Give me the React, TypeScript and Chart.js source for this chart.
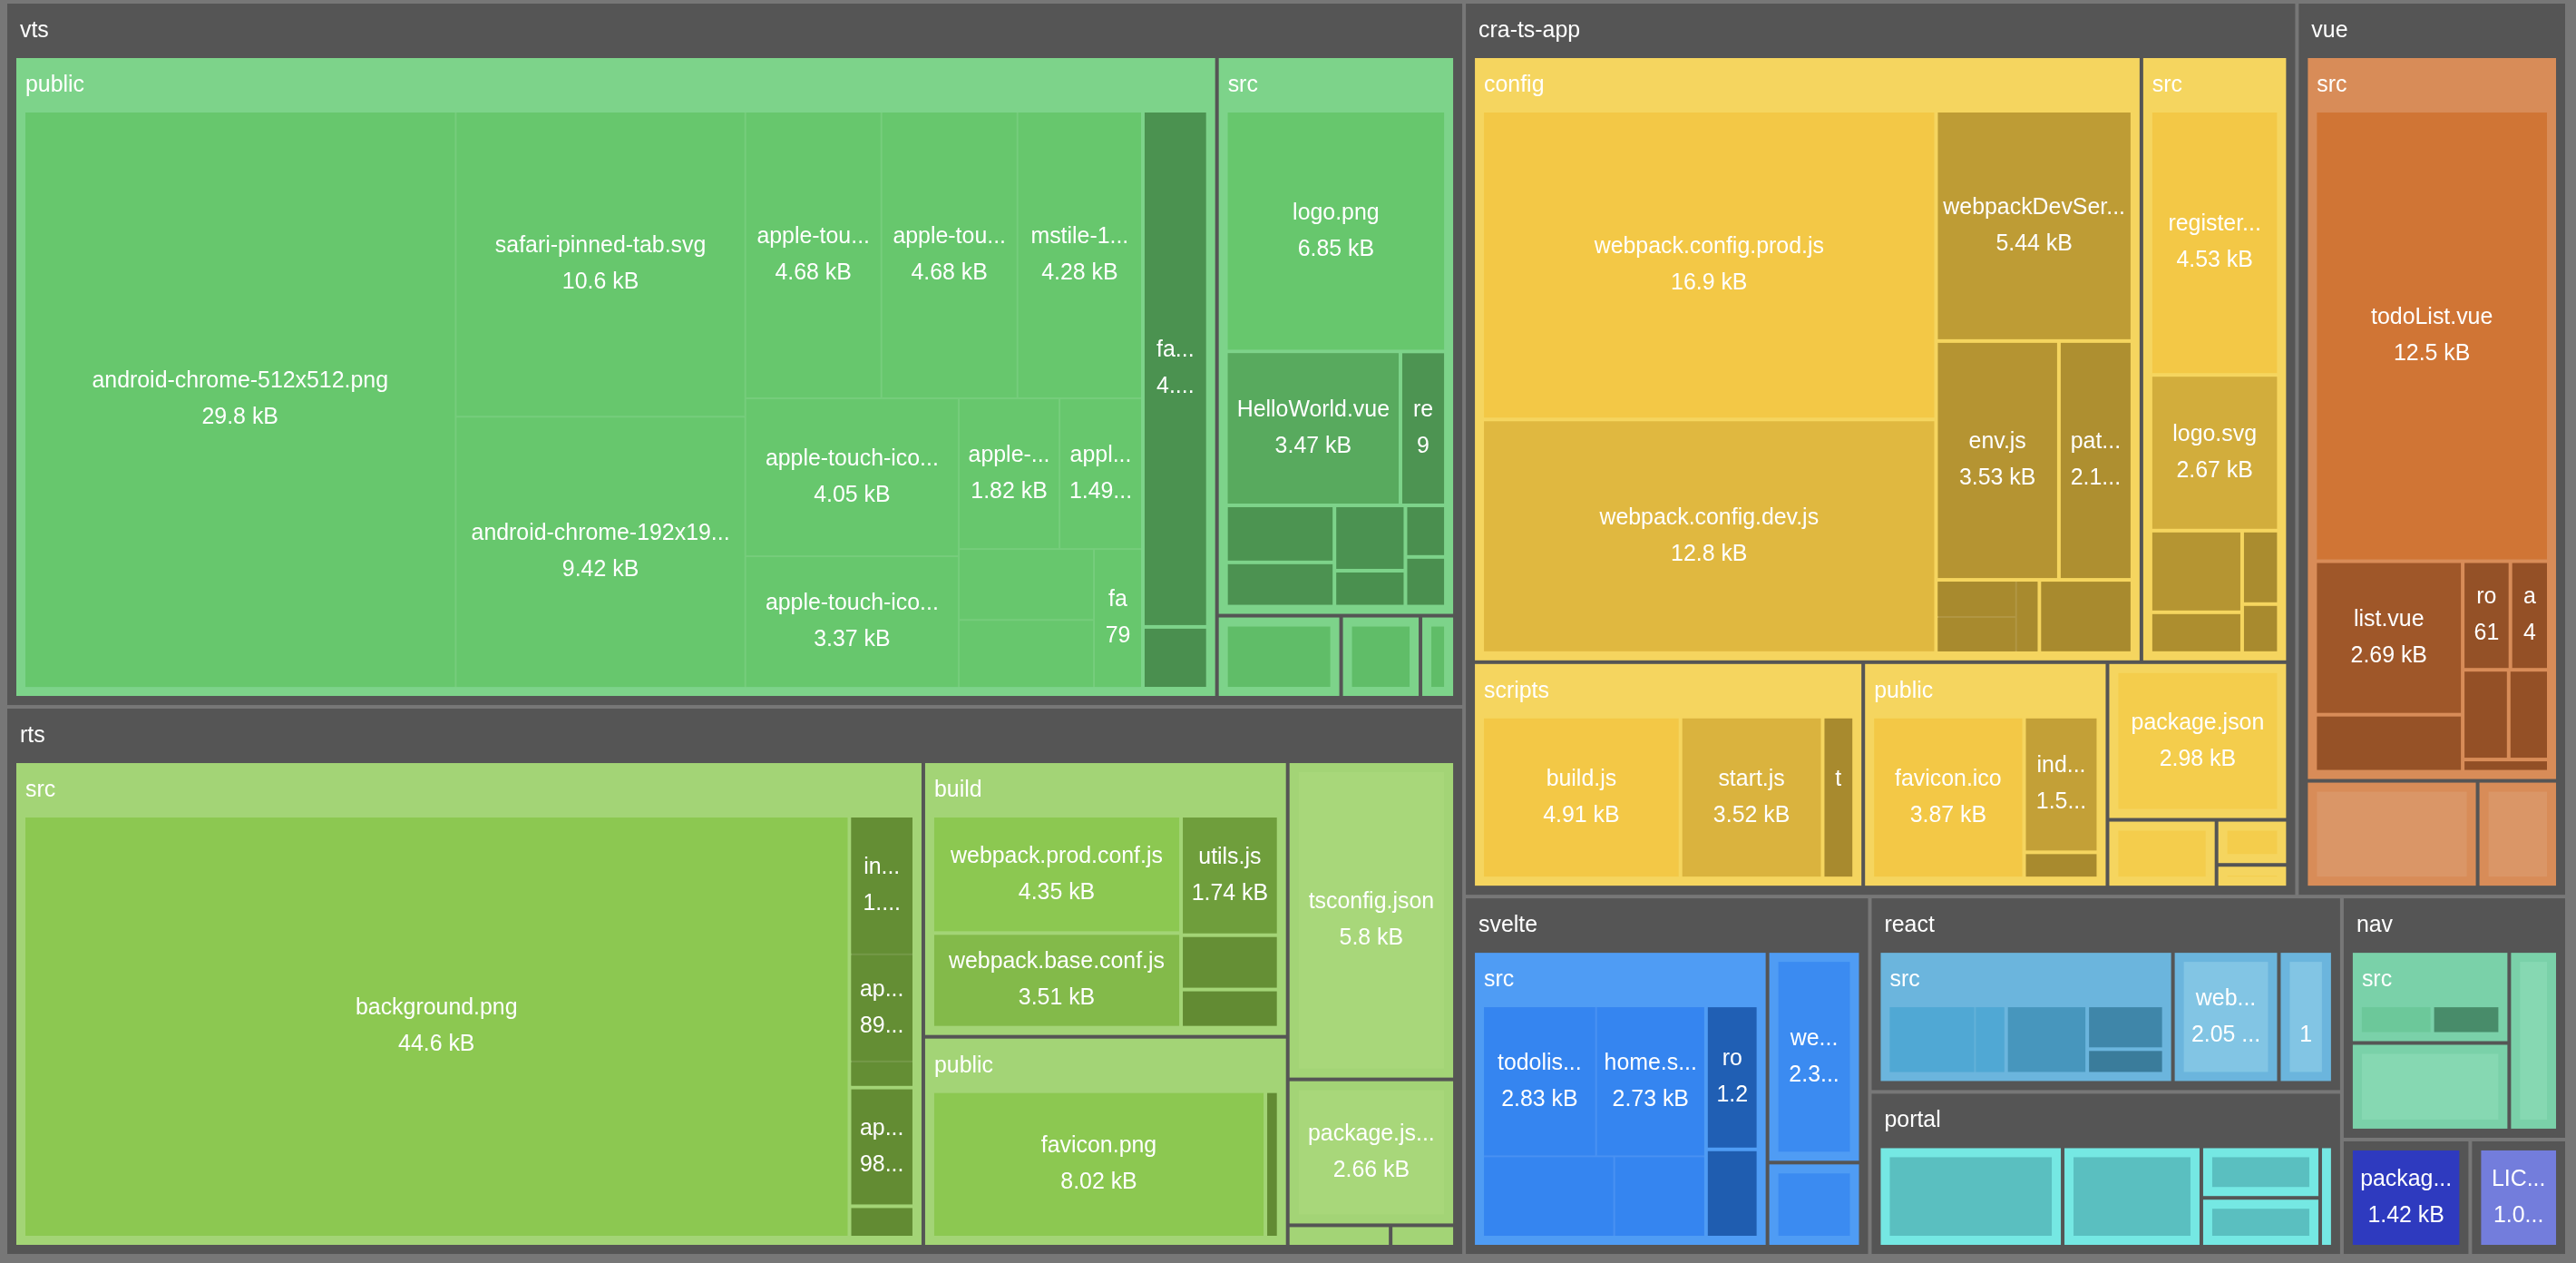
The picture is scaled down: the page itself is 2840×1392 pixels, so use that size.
import React, { useEffect, useRef } from "react";
import { Chart, registerables } from "chart.js";

Chart.register(...registerables);

// [name, size in bytes | children, optional directory size on disk]
type Entry = [string, number | Entry[], number?];

// ---------------- data (file sizes in bytes) ----------------
const vtsIcons: Entry[] = [
  ["android-chrome-512x512.png", 29812],
  ["safari-pinned-tab.svg", 10600],
  ["android-chrome-192x192.png", 9418],
  ["apple-touch-icon-180x180.png", 4680],
  ["apple-touch-icon.png", 4680],
  ["mstile-150x150.png", 4282],
  ["apple-touch-icon-152x152.png", 4046],
  ["apple-touch-icon-120x120.png", 3369],
  ["apple-touch-icon-76x76.png", 1822],
  ["apple-touch-icon-60x60.png", 1491],
  ["favicon-32x32.png", 1150],
  ["msapplication-icon-144x144.png", 1100],
  ["favicon-16x16.png", 799],
];
const vtsImg: Entry[] = [["icons", vtsIcons]];
const vtsPublic: Entry[] = [["img", vtsImg], ["favicon.ico", 4010], ["index.html", 480]];
const vtsAssets: Entry[] = [["logo.png", 6849]];
const vtsComponents: Entry[] = [["HelloWorld.vue", 3474]];
const vtsSrc: Entry[] = [
  ["assets", vtsAssets],
  ["components", vtsComponents],
  ["registerServiceWorker.ts", 905],
  ["App.vue", 800],
  ["router.ts", 620],
  ["main.ts", 600],
  ["store.ts", 330],
  ["shims-tsx.d.ts", 270],
  ["shims-vue.d.ts", 260],
];
const vtsRoot: Entry[] = [
  ["public", vtsPublic],
  ["src", vtsSrc],
  ["package.json", 1080],
  ["tsconfig.json", 690],
  ["README.md", 300],
];

const rtsComponents: Entry[] = [["index.tsx", 1150], ["app.tsx", 895], ["app.css", 210]];
const rtsSrc: Entry[] = [["background.png", 44600], ["components", rtsComponents], ["api.ts", 985], ["env.d.ts", 260]];
const rtsBuild: Entry[] = [
  ["webpack.prod.conf.js", 4350],
  ["webpack.base.conf.js", 3510],
  ["utils.js", 1740],
  ["webpack.dev.conf.js", 791],
  ["check-versions.js", 556],
];
const rtsPublic: Entry[] = [["favicon.png", 8020], ["index.html", 320]];
const rtsRoot: Entry[] = [
  ["src", rtsSrc],
  ["build", rtsBuild],
  ["public", rtsPublic],
  ["tsconfig.json", 5800],
  ["package.json", 2660],
  [".babelrc", 240],
  [".gitignore", 150],
];

const craJest: Entry[] = [["cssTransform.js", 360], ["fileTransform.js", 350], ["babelTransform.js", 200]];
const craConfig: Entry[] = [
  ["webpack.config.prod.js", 16860],
  ["webpack.config.dev.js", 12760],
  ["webpackDevServer.config.js", 5440],
  ["env.js", 3530],
  ["paths.js", 2110],
  ["jest", craJest],
  ["polyfills.js", 820],
];
const craSrc: Entry[] = [
  ["registerServiceWorker.ts", 4530],
  ["logo.svg", 2670],
  ["App.tsx", 1000],
  ["index.tsx", 500],
  ["App.css", 360],
  ["App.test.tsx", 240],
];
const craScripts: Entry[] = [["build.js", 4910], ["start.js", 3520], ["test.js", 780]];
const craPublic: Entry[] = [["favicon.ico", 3870], ["index.html", 1590], ["manifest.json", 306]];
const craRoot: Entry[] = [
  ["config", craConfig],
  ["src", craSrc],
  ["scripts", craScripts],
  ["public", craPublic],
  ["package.json", 2980],
  ["tsconfig.json", 773],
  ["tslint.json", 337],
  [".gitignore", 169],
];

const vueSrc: Entry[] = [
  ["todoList.vue", 12500],
  ["list.vue", 2690],
  ["index.vue", 1000],
  ["router.js", 615],
  ["app.js", 495],
  ["main.js", 490],
  ["store.js", 427],
  ["util.js", 125],
];
const vueRoot: Entry[] = [["src", vueSrc], ["package.json", 1840], ["README.md", 860]];

const svelteComponents: Entry[] = [
  ["todolist.svelte", 2830],
  ["home.svelte", 2730],
  ["list.svelte", 1760],
  ["item.svelte", 1220],
];
const svelteSrc: Entry[] = [["components", svelteComponents], ["router.js", 1240], ["main.js", 760]];
const svelteRoot: Entry[] = [["src", svelteSrc], ["webpack.config.js", 2390], ["package.json", 950]];

const reactComponents: Entry[] = [["App.js", 1803], ["App.css", 632]];
const reactSrc: Entry[] = [["components", reactComponents], ["index.js", 1673], ["App.test.js", 1011], ["index.css", 569]];
const reactRoot: Entry[] = [["src", reactSrc], ["webpack.config.js", 2050], ["README.md", 1043]];

const portalRoot: Entry[] = [
  ["index.js", 2981],
  ["portal.js", 2250],
  ["style.css", 990],
  ["README.md", 938],
  [".gitignore", 205],
];

const navSrc: Entry[] = [["nav.js", 1053], ["nav.css", 988]];
const navRoot: Entry[] = [["src", navSrc], ["index.html", 1942], ["package.json", 1224]];

const projects: Entry[] = [
  ["vts", vtsRoot],
  ["rts", rtsRoot],
  ["cra-ts-app", craRoot],
  ["vue", vueRoot, 23000],
  ["svelte", svelteRoot],
  ["react", reactRoot],
  ["portal", portalRoot],
  ["nav", navRoot],
  ["package.json", 1420],
  ["LICENSE", 1070],
];

// ---------------- styles ----------------
const PALETTE: Record<string, { header: string; base: string; dark: string; leaf2: string }> = {
  vts: { header: "#7dd38a", base: "#67c76d", dark: "#4a8f4f", leaf2: "#60bd68" },
  rts: { header: "#a3d476", base: "#8cc851", dark: "#628b33", leaf2: "#a8d77a" },
  "cra-ts-app": { header: "#f5d55f", base: "#f3c846", dark: "#a88a2e", leaf2: "#f4cd4c" },
  vue: { header: "#d88c58", base: "#d07535", dark: "#924f26", leaf2: "#da9667" },
  svelte: { header: "#4f9cf4", base: "#3585f0", dark: "#1f5db0", leaf2: "#3b8bf1" },
  react: { header: "#6bb5dd", base: "#50a8d4", dark: "#3a7c9b", leaf2: "#82c5e4" },
  portal: { header: "#75e8e3", base: "#5abfc0", dark: "#4aa3a4", leaf2: "#5abfc0" },
  nav: { header: "#7ad1a9", base: "#6cc89a", dark: "#488c6a", leaf2: "#86d8b2" },
  "package.json": { header: "#555555", base: "#2e3abf", dark: "#2e3abf", leaf2: "#2e3abf" },
  LICENSE: { header: "#555555", base: "#737ddc", dark: "#737ddc", leaf2: "#737ddc" },
};
const CANVAS_W = 2840;
const CANVAS_H = 1392;
const AREA = { x: 8, y: 4, w: 2820, h: 1378 };
const ROOT_BG = "#777777";
const PROJECT_BG = "#555555";
const FONT = '24.9px "Liberation Sans", Arial, Helvetica, sans-serif';
const MEASURE_FONT = '24px "Liberation Sans", Arial, Helvetica, sans-serif';
const RATIO = 0.5 * (1 + Math.sqrt(5));
const LABEL_MIN_H = 97;
const ELLIPSIS_SCALE = 0.85;

interface TNode {
  name: string;
  value: number;
  children: TNode[] | null;
  depth: number;
  x: number;
  y: number;
  w: number;
  h: number;
  area: number;
  color: string;
  border: string;
  fill: string;
}

function build(entry: Entry, depth: number): TNode {
  const [name, v, total] = entry;
  const base = { name, depth, x: 0, y: 0, w: 0, h: 0, area: 0, color: "", border: "", fill: "" };
  if (Array.isArray(v)) {
    const children = v.map((e) => build(e, depth + 1));
    const sum = children.reduce((s, c) => s + c.value, 0);
    return { ...base, value: total != null ? total : sum, children };
  }
  return { ...base, value: v, children: null };
}

function levelStyle(n: TNode) {
  if (n.depth === 0) return { bw: 0, gap: 4, upper: 0 };
  if (n.depth <= 2) return { bw: 10, gap: 4, upper: n.children ? 60 : 0 };
  return { bw: 0, gap: 2, upper: 0 };
}

function worst(row: TNode[], rowArea: number, fixed: number) {
  let max = 0;
  let min = Infinity;
  for (const r of row) {
    const a = r.area;
    if (a) {
      if (a < min) min = a;
      if (a > max) max = a;
    }
  }
  const sq = rowArea * rowArea;
  const f = fixed * fixed * RATIO;
  return sq ? Math.max((f * max) / sq, sq / (f * min)) : Infinity;
}

function position(
  row: TNode[],
  rowArea: number,
  fixed: number,
  rect: { x: number; y: number; width: number; height: number },
  half: number,
  flush: boolean
) {
  const horiz = fixed === rect.width;
  let last = horiz ? rect.x : rect.y;
  let other = fixed ? rowArea / fixed : 0;
  const rectOther = horiz ? rect.height : rect.width;
  if (flush || other > rectOther) other = rectOther;
  const end = horiz ? rect.x + rect.width : rect.y + rect.height;
  for (let i = 0; i < row.length; i++) {
    const n = row[i];
    const step = other ? n.area / other : 0;
    const wh1 = Math.max(other - 2 * half, 0);
    const remain = end - last;
    const mod = i === row.length - 1 || remain < step ? remain : step;
    const wh0 = Math.max(mod - 2 * half, 0);
    if (horiz) {
      n.w = wh0;
      n.h = wh1;
      n.x = last + Math.min(half, wh0 / 2);
      n.y = rect.y + Math.min(half, wh1 / 2);
    } else {
      n.h = wh0;
      n.w = wh1;
      n.y = last + Math.min(half, wh0 / 2);
      n.x = rect.x + Math.min(half, wh1 / 2);
    }
    last += mod;
  }
  if (horiz) {
    rect.y += other;
    rect.height -= other;
  } else {
    rect.x += other;
    rect.width -= other;
  }
}

function squarify(node: TNode) {
  if (!node.children || !node.children.length) return;
  const { bw, gap, upper } = levelStyle(node);
  const half = gap / 2;
  const upperH = Math.max(bw, upper);
  const lo = bw - half;
  const loU = upperH - half;
  const width = Math.max(node.w - 2 * lo, 0);
  const height = Math.max(node.h - lo - loU, 0);
  const total = width * height;
  const kids = node.children.slice().sort((a, b) => b.value - a.value);
  const sum = kids.reduce((s, c) => s + c.value, 0);
  kids.forEach((k) => (k.area = (k.value / sum) * total));
  const rect = { x: node.x + lo, y: node.y + loU, width, height };
  let fixed = Math.min(width, height);
  let best = Infinity;
  let row: TNode[] = [];
  let rowArea = 0;
  for (let i = 0; i < kids.length; ) {
    const c = kids[i];
    row.push(c);
    rowArea += c.area;
    const score = worst(row, rowArea, fixed);
    if (score <= best) {
      i++;
      best = score;
    } else {
      row.pop();
      rowArea -= c.area;
      position(row, rowArea, fixed, rect, half, false);
      fixed = Math.min(rect.width, rect.height);
      row = [];
      rowArea = 0;
      best = Infinity;
    }
  }
  if (row.length) position(row, rowArea, fixed, rect, half, true);
  kids.forEach(squarify);
}

function hexRgb(h: string) {
  const s = h.replace("#", "");
  return [0, 2, 4].map((i) => parseInt(s.substr(i, 2), 16));
}
function mix(a: string, b: string, t: number) {
  const A = hexRgb(a);
  const B = hexRgb(b);
  const c = A.map((v, i) => Math.round(v + (B[i] - v) * t));
  return "#" + c.map((v) => v.toString(16).padStart(2, "0")).join("");
}

function paint(n: TNode, color: string) {
  n.color = color;
  if (n.children) n.children.forEach((c) => paint(c, color));
}

function assignColors(root: TNode) {
  for (const p of root.children || []) {
    const pal = PALETTE[p.name];
    p.border = PROJECT_BG;
    p.fill = p.children ? PROJECT_BG : pal.base;
    if (!p.children) continue;
    for (const c of p.children) {
      c.border = pal.header;
      c.fill = c.children ? pal.header : pal.leaf2;
      if (c.children) {
        const vals = c.children.map((g) => g.value);
        const max = Math.max(...vals);
        const min = Math.min(...vals);
        for (const g of c.children) {
          const t = max > min ? (max - g.value) / (max - min) : 0;
          paint(g, mix(pal.base, pal.dark, t));
        }
      }
    }
  }
}

function formatSize(b: number) {
  if (b < 1000) return b + " B";
  return Number((b / 1000).toPrecision(3)) + " kB";
}

function truncate(ctx: CanvasRenderingContext2D, text: string, width: number) {
  const prevFont = ctx.font;
  ctx.font = MEASURE_FONT;
  const m = (s: string) => ctx.measureText(s).width;
  const container = Math.max(0, width);
  let result = "";
  if (container > 0) {
    const asc = m("a");
    let ellipsis = "...";
    let content = container;
    for (let i = 0; i < 2 && content >= asc; i++) content -= asc;
    let ellW = m(ellipsis) * ELLIPSIS_SCALE;
    if (ellW > content) {
      ellipsis = "";
      ellW = 0;
    }
    content = container - ellW;
    let line = text;
    let lw = m(line);
    if (lw <= container) {
      result = line;
    } else {
      for (let j = 0; ; j++) {
        if (lw <= content || j >= 2) {
          line += ellipsis;
          break;
        }
        let sub: number;
        if (j === 0) {
          let acc = 0;
          let k = 0;
          for (; k < line.length && acc < content; k++) acc += asc;
          sub = k;
        } else {
          sub = lw > 0 ? Math.floor((line.length * content) / lw) : 0;
        }
        line = line.substr(0, sub);
        lw = m(line);
      }
      result = line;
    }
  }
  ctx.font = prevFont;
  return result;
}

function drawNode(ctx: CanvasRenderingContext2D, n: TNode, X: (v: number) => number, Y: (v: number) => number) {
  const x0 = X(n.x);
  const y0 = Y(n.y);
  const w = X(n.x + n.w) - x0;
  const h = Y(n.y + n.h) - y0;
  if (n.depth > 0 && (w <= 0 || h <= 0)) return;
  const { bw } = levelStyle(n);
  if (n.depth >= 1 && n.depth <= 2) {
    ctx.fillStyle = n.border;
    ctx.fillRect(x0, y0, w, h);
    if (n.children) {
      const pad = n.depth === 1 ? 14 : 10;
      ctx.font = FONT;
      ctx.fillStyle = "#ffffff";
      ctx.textAlign = "left";
      ctx.textBaseline = "middle";
      const t = truncate(ctx, n.name, w - 2 * pad);
      ctx.fillText(t, x0 + pad, y0 + 30);
    } else {
      ctx.fillStyle = n.fill;
      ctx.fillRect(x0 + bw, y0 + bw, Math.max(w - 2 * bw, 0), Math.max(h - 2 * bw, 0));
    }
  } else if (n.depth >= 3) {
    ctx.fillStyle = n.children ? mix(n.color, "#ffffff", 0.1) : n.color;
    ctx.fillRect(x0, y0, w, h);
  }
  if (!n.children && n.depth > 0) {
    const iw = w - 2 * bw;
    const ih = h - 2 * bw;
    if (ih >= LABEL_MIN_H && iw > 0) {
      ctx.font = FONT;
      ctx.fillStyle = "#ffffff";
      ctx.textAlign = "center";
      ctx.textBaseline = "middle";
      const cx = x0 + w / 2;
      const cy = y0 + h / 2;
      const avail = iw - 20;
      const l1 = truncate(ctx, n.name, avail);
      const l2 = truncate(ctx, formatSize(n.value), avail);
      if (l1) ctx.fillText(l1, cx, cy - 20);
      if (l2) ctx.fillText(l2, cx, cy + 20);
    }
  }
  if (n.children) n.children.forEach((c) => drawNode(ctx, c, X, Y));
}

const treemapPlugin = {
  id: "fileTreemap",
  beforeDraw(chart: any) {
    const ctx = chart.ctx as CanvasRenderingContext2D;
    ctx.save();
    ctx.fillStyle = ROOT_BG;
    ctx.fillRect(0, 0, chart.width, chart.height);
    ctx.restore();
  },
  afterDatasetsDraw(chart: any) {
    const ctx = chart.ctx as CanvasRenderingContext2D;
    const xs = chart.scales.x;
    const ys = chart.scales.y;
    const root = build(["root", projects], 0);
    root.x = AREA.x;
    root.y = AREA.y;
    root.w = AREA.w;
    root.h = AREA.h;
    squarify(root);
    assignColors(root);
    const X = (v: number) => xs.getPixelForValue(v);
    const Y = (v: number) => ys.getPixelForValue(v);
    ctx.save();
    drawNode(ctx, root, X, Y);
    ctx.restore();
  },
};

export default function App() {
  const ref = useRef<HTMLCanvasElement>(null);
  useEffect(() => {
    const canvas = ref.current;
    if (!canvas) return;
    const chart = new Chart(canvas, {
      type: "scatter",
      data: { datasets: [{ data: [], pointRadius: 0 }] },
      options: {
        animation: false,
        responsive: false,
        devicePixelRatio: 1,
        layout: { padding: 0 },
        plugins: { legend: { display: false }, tooltip: { enabled: false }, title: { display: false } },
        scales: {
          x: { type: "linear", min: 0, max: CANVAS_W, display: false },
          y: { type: "linear", min: 0, max: CANVAS_H, reverse: true, display: false },
        },
      },
      plugins: [treemapPlugin],
    } as any);
    return () => chart.destroy();
  }, []);
  return (
    <div style={{ position: "fixed", left: 0, top: 0, width: CANVAS_W, height: CANVAS_H, background: ROOT_BG }}>
      <canvas ref={ref} width={CANVAS_W} height={CANVAS_H} style={{ display: "block", width: CANVAS_W, height: CANVAS_H }} />
    </div>
  );
}
